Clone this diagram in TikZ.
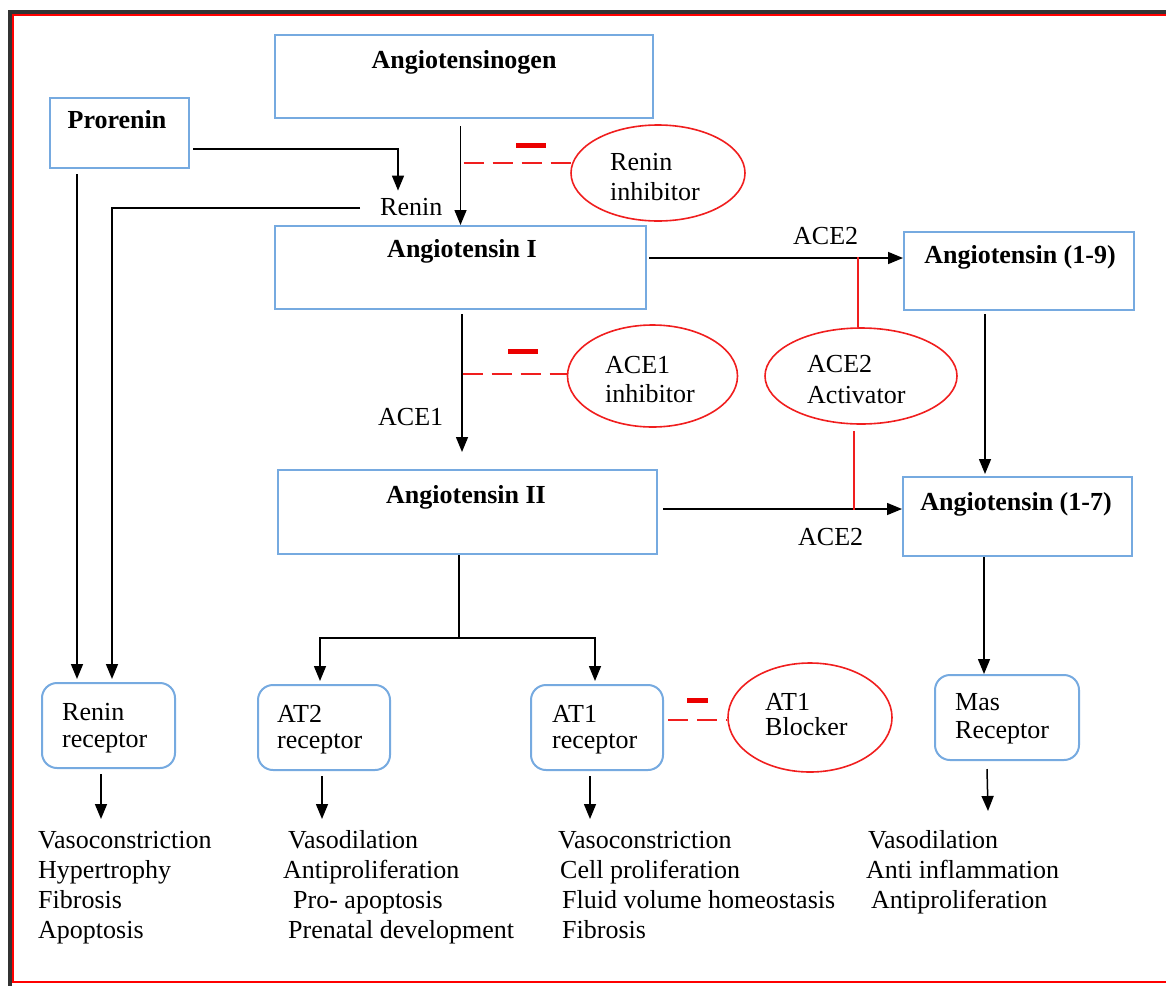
\documentclass[tikz,border=0pt]{standalone}
\usepackage{fontspec}
\setmainfont{Liberation Serif}
\usetikzlibrary{arrows.meta,shapes.geometric,calc}
\definecolor{boxblue}{RGB}{118,170,224}
\definecolor{inhred}{RGB}{240,30,30}
\tikzset{
  tx/.style={font=\fontsize{26}{30}\selectfont, inner sep=0, anchor=base west},
  btx/.style={font=\fontsize{26}{30}\selectfont\bfseries, inner sep=0, anchor=base},
  box/.style={draw=boxblue, line width=2, rectangle, inner sep=0},
  rbox/.style={box, rounded corners=15},
  inh/.style={draw=inhred, line width=1.6, ellipse, inner sep=0},
  arr/.style={-{Triangle[length=15pt,width=12pt]}, line width=1.5, black},
  ln/.style={line width=1.5, black},
  inhline/.style={draw=inhred, line width=1.6, dash pattern=on 20 off 9},
  actline/.style={draw=inhred, line width=1.6},
  minusbar/.style={fill=red!92!black, draw=none, rectangle, inner sep=0, minimum height=5}
}
\begin{document}
\begin{tikzpicture}[x=1pt,y=-1pt]
\useasboundingbox (0,0) rectangle (1166,985);
\clip (0,0) rectangle (1166,985);
% frame
\draw[line width=4, black!80] (9.5,11.5) rectangle (1200,990);
\draw[line width=2, red] (13,15) rectangle (1200,982);

% boxes
\node[box, minimum width=378, minimum height=83] (agen) at (464,76.5) {};
\node[btx] (agent) at (464,68) {Angiotensinogen};
\node[box, minimum width=139, minimum height=70] (pro) at (119.5,133) {};
\node[btx] (prot) at (117,128) {Prorenin};
\node[box, minimum width=371, minimum height=83] (ang1) at (460.5,267.5) {};
\node[btx] (ang1t) at (462,257) {Angiotensin I};
\node[box, minimum width=379, minimum height=84] (ang2) at (467.5,512) {};
\node[btx] (ang2t) at (466,503) {Angiotensin II};
\node[box, minimum width=230, minimum height=78] (a19) at (1019,271) {};
\node[btx] (a19t) at (1020,263) {Angiotensin (1-9)};
\node[box, minimum width=229, minimum height=79] (a17) at (1017.5,516.5) {};
\node[btx] (a17t) at (1016,510) {Angiotensin (1-7)};

% receptors
\node[rbox, minimum width=133, minimum height=85] (rrec) at (108.5,725.5) {};
\node[tx] (rrec1) at (62,720) {Renin};
\node[tx] (rrec2) at (62,747) {receptor};
\node[rbox, minimum width=132, minimum height=85] (at2) at (324,727.5) {};
\node[tx] (at2a) at (277,722) {AT2};
\node[tx] (at2b) at (277,748) {receptor};
\node[rbox, minimum width=132, minimum height=85] (at1) at (597,727.5) {};
\node[tx] (at1a) at (552,722) {AT1};
\node[tx] (at1b) at (552,748) {receptor};
\node[rbox, minimum width=144, minimum height=85] (mas) at (1007,717.5) {};
\node[tx] (masa) at (955,710) {Mas};
\node[tx] (masb) at (955,738) {Receptor};

% ellipses
\node[inh, minimum width=174, minimum height=96] (rinh) at (658,173) {};
\node[tx] (rinh1) at (610,170) {Renin};
\node[tx] (rinh2) at (610,200) {inhibitor};
\node[inh, minimum width=170, minimum height=102] (a1inh) at (652.5,376) {};
\node[tx] (a1inh1) at (605,373) {ACE1};
\node[tx] (a1inh2) at (605,402) {inhibitor};
\node[inh, minimum width=192, minimum height=96] (act) at (861,376) {};
\node[tx] (act1) at (807,372) {ACE2};
\node[tx] (act2) at (807,403) {Activator};
\node[inh, minimum width=164, minimum height=109] (blk) at (810,717.5) {};
\node[tx] (blk1) at (765,710) {AT1};
\node[tx] (blk2) at (765,735) {Blocker};

% labels
\node[tx] (renin) at (380,215) {Renin};
\node[tx] (ace2a) at (793,244) {ACE2};
\node[tx] (ace1) at (378,425) {ACE1};
\node[tx] (ace2b) at (798,545) {ACE2};

% minus bars
\node[minusbar, minimum width=30] (m1) at (531,145) {};
\node[minusbar, minimum width=30] (m2) at (523,351) {};
\node[minusbar, minimum width=21] (m3) at (697.5,700.5) {};

% lists
\node[tx] (l1a) at (38,848) {Vasoconstriction};
\node[tx] (l1b) at (38,878) {Hypertrophy};
\node[tx] (l1c) at (38,908) {Fibrosis};
\node[tx] (l1d) at (38,938) {Apoptosis};
\node[tx] (l2a) at (288,848) {Vasodilation};
\node[tx] (l2b) at (283,878) {Antiproliferation};
\node[tx] (l2c) at (293,908) {Pro- apoptosis};
\node[tx] (l2d) at (288,938) {Prenatal development};
\node[tx] (l3a) at (558,848) {Vasoconstriction};
\node[tx] (l3b) at (560,878) {Cell proliferation};
\node[tx] (l3c) at (562,908) {Fluid volume homeostasis};
\node[tx] (l3d) at (562,938) {Fibrosis};
\node[tx] (l4a) at (868,848) {Vasodilation};
\node[tx] (l4b) at (866,878) {Anti inflammation};
\node[tx] (l4c) at (871,908) {Antiproliferation};

% connectors
\draw[arr] ($(agen.south -| ang1.north)+(0,7)$) -- (ang1.north);
\draw[arr] ($(pro.east)+(3,16)$) -| ($(renin.north west)+(18,-7)$);
\draw[arr] ($(renin.base west)+(-20,-7)$) -| ($(rrec.north)+(3.5,-3)$);
\draw[arr] ($(pro.south)+(-42.5,5)$) -- ($(rrec.north)+(-31.5,-3)$);
\draw[arr] ($(ang1.south)+(1.5,4)$) -- ($(ang2.north)+(-5.5,-17)$);
\draw[arr] ($(ang1.east)+(2,-9.5)$) -- ($(a19.west)+(0,-13)$);
\draw[arr] ($(ang2.east)+(5,-3)$) -- ($(a17.west)+(0,-7.5)$);
\draw[arr] ($(a19.south)+(-34,3)$) -- ($(a17.north)+(-32.5,-2)$);
\draw[arr] ($(a17.south)+(-33.5,0)$) -- ($(mas.north)+(-23,0)$);
\coordinate (jn) at ($(ang2.south)+(-8.5,83)$);
\draw[ln] (ang2.south -| jn) -- (jn);
\draw[arr] (jn) -| ($(at2.north)+(-4,-3)$);
\draw[arr] (jn) -| ($(at1.north)+(-2,-3)$);
\draw[arr] ($(rrec.south)+(-7.5,5)$) -- ++(0,45);
\draw[arr] ($(at2.south)+(-2,5)$) -- ++(0,43);
\draw[arr] ($(at1.south)+(-7,5)$) -- ++(0,43);
\draw[arr] ($(mas.south)+(-20,8)$) -- ++(1,42);

% inhibitor / activator lines
\draw[inhline] ($(ang1.north |- rinh.west)+(3,-10)$) -- ($(rinh.west)+(1,-10)$);
\draw[inhline] ($(ang1.south |- a1inh.west)+(2,-2)$) -- ($(a1inh.west)+(0,-2)$);
\draw[inhline] ($(at1.east)+(4,-7.5)$) -- ($(blk.west)+(0,2.5)$);
\draw[actline] ($(act.north)+(-3,0)$) -- ($(act.north)+(-3,-70)$);
\draw[actline] ($(act.south)+(-7,6)$) -- ($(act.south)+(-7,85)$);
\end{tikzpicture}
\end{document}
